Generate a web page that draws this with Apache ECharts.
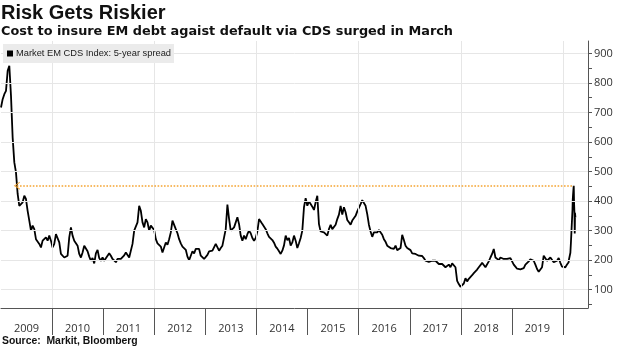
<!DOCTYPE html>
<html><head><meta charset="utf-8">
<script src="https://cdn.jsdelivr.net/npm/echarts@6/dist/echarts.min.js"></script>
<style>html,body{margin:0;padding:0;background:#fff}#c{width:620px;height:348px}</style>
</head><body><div id="c"></div>
<script>
const chartTitle = 'Risk Gets Riskier';
const chartSubtitle = 'Cost to insure EM debt agaist default via CDS surged in March';
const sourceText = 'Source:  Markit, Bloomberg';
const seriesName = 'Market EM CDS Index: 5-year spread';

// regularly spaced readings starting 2009-01-01, one every ~11.9 days
const startDate = [2009, 0, 1];
const stepDays = 11.9;
const spreadValues = [
717,745,762,773,841,858,757,615,531,497,
424,384,379,396,418,407,367,334,300,317,
305,271,271,255,243,266,271,277,266,283,
266,243,255,288,283,260,221,221,209,204,
215,277,311,283,266,271,249,221,209,226,
249,252,230,212,198,207,189,223,235,207,
198,209,198,204,215,223,215,204,198,193,
204,198,204,209,216,226,230,209,215,255,
300,294,328,384,367,328,311,339,328,300,
317,311,302,271,257,260,246,226,230,260,
252,271,294,334,328,305,291,271,257,246,
241,235,212,200,215,230,223,
238,238,238,215,221,204,204,218,230,226,
232,237,255,249,232,241,249,277,305,388,
340,300,294,311,328,345,322,283,266,283,
271,288,300,291,275,266,275,297,339,331,
322,324,305,291,279,275,268,259,246,239,
230,221,232,250,283,268,275,249,260,283,
266,241,257,275,300,379,410,384,399,390,
381,370,396,418,322,297,294,294,288,283,
305,320,305,311,320,339,354,384,354,379,
362,336,328,320,334,328,350,365,370,390,
403,401,384,356,320,297,279,294,291,294,
302,302,286,271,262,249,246,
241,243,238,249,234,232,241,286,268,249,
241,237,234,223,226,221,216,215,209,214,
207,198,198,194,198,198,203,198,194,187,
182,187,181,176,176,185,176,189,185,176,
130,119,110,114,121,139,128,137,142,149,
156,162,168,176,183,191,185,176,182,196,
209,221,238,209,204,200,209,214,204,209,
204,198,207,196,185,178,171,167,169,167,
173,185,191,196,203,207,198,185,170,161,
156,176,215,209,198,204,209,203,193,198,
198,207,191,178,180,176,185,193
];
// daily detail around the March 2020 spike
const tailDates = ['2020-02-12','2020-02-18','2020-02-23','2020-02-27','2020-03-02','2020-03-06','2020-03-09','2020-03-11','2020-03-13','2020-03-16','2020-03-18','2020-03-19','2020-03-20','2020-03-23','2020-03-24','2020-03-25','2020-03-26','2020-03-27','2020-03-30'];
const tailValues = [200,195,225,260,300,340,370,405,420,440,452,430,400,360,330,290,310,360,345];

const labelYears = [2009,2010,2011,2012,2013,2014,2015,2016,2017,2018,2019];
const tickYears = [2010,2011,2012,2013,2014,2015,2016,2017,2018,2019,2020];
const gridYears = [2010,2012,2014,2016,2018,2020];
const yLabelValues = [100,200,300,400,500,600,700,800,900];
const yTickValues = [50,100,150,200,250,300,350,400,450,500,550,600,650,700,750,800,850,900];
const yMin = 38, yMax = 942;
const axisStart = '2009-01-01', axisEnd = '2020-06-28';
const peakLevel = 452;
const arrowFrom = '2009-04-24';
const arrowTo = '2020-03-18';

const ts = s => { const p = s.split('-').map(Number); return Date.UTC(p[0], p[1]-1, p[2]); };
const DAY = 86400000;
const t0 = Date.UTC(startDate[0], startDate[1], startDate[2]);
const lineData = spreadValues.map((v, i) => [t0 + Math.round(i * stepDays * DAY), v])
  .concat(tailDates.map((d, i) => [ts(d), tailValues[i]]));

const chart = echarts.init(document.getElementById('c'), null, {renderer: 'canvas'});
const F = 'Liberation Sans';
chart.setOption({
  animation: false,
  backgroundColor: '#fff',
  title: [
    {text: chartTitle, left: 1, top: 3, padding: 0, textStyle: {fontFamily: F, fontWeight: 'bold', fontSize: 20, color: '#111'}},
    {text: chartSubtitle, left: 1, top: 25, padding: 0, textStyle: {fontFamily: 'DejaVu Sans', fontWeight: 'bold', fontSize: 12.85, color: '#111'}},
    {text: sourceText, left: 2, top: 336, padding: 0, textStyle: {fontFamily: F, fontWeight: 'bold', fontSize: 10.4, color: '#111'}}
  ],
  legend: {
    data: [seriesName], left: 3, top: 44, z: 20, padding: [5, 3, 5, 4], backgroundColor: '#ebebeb',
    icon: 'rect', itemWidth: 6, itemHeight: 6, itemGap: 0, selectedMode: false,
    textStyle: {fontFamily: F, fontSize: 9.3, color: '#1a1a1a', padding: [0, 0, 0, -2]}
  },
  grid: {left: 1, right: 32, top: 41, bottom: 40, containLabel: false, outerBoundsMode: 'none'},
  xAxis: {
    type: 'value', min: ts(axisStart), max: ts(axisEnd), scale: true,
    axisLine: {show: true, lineStyle: {color: '#555', width: 1}},
    axisTick: {show: true, length: 27, lineStyle: {color: '#555'}, customValues: tickYears.map(y => Date.UTC(y, 0, 1))},
    axisLabel: {
      customValues: labelYears.map(y => Date.UTC(y, 6, 2)), margin: 15,
      fontFamily: 'Open Sans', fontSize: 11, color: '#333',
      formatter: v => String(new Date(v).getUTCFullYear())
    },
    splitLine: {show: false}, minorTick: {show: false}
  },
  yAxis: {
    type: 'value', position: 'right', min: yMin, max: yMax,
    axisLine: {show: true, lineStyle: {color: '#555', width: 1}},
    axisTick: {show: true, inside: false, length: 4, lineStyle: {color: '#555'}, customValues: yTickValues},
    axisLabel: {customValues: yLabelValues, margin: 6, fontFamily: 'Open Sans', fontSize: 11, color: '#333'},
    splitLine: {show: false}
  },
  series: [
    {
      type: 'line', name: 'grid', data: [], z: 1, zlevel: 0, silent: true,
      markLine: {
        silent: true, symbol: 'none', label: {show: false}, animation: false,
        lineStyle: {color: '#e6e6e6', width: 1, type: 'solid'},
        emphasis: {disabled: true},
        data: yLabelValues.map(v => ({yAxis: v})).concat(gridYears.map(y => ({xAxis: Date.UTC(y, 0, 1)})))
      }
    },
    {
      type: 'line', name: seriesName, data: lineData, z: 3, showSymbol: false, symbol: 'none',
      color: '#000', lineStyle: {color: '#000', width: 1.8}, emphasis: {disabled: true},
      markLine: {
        silent: true, label: {show: false}, animation: false, emphasis: {disabled: true},
        lineStyle: {color: '#f5a431', width: 1.6, type: 'dotted'},
        data: [[
          {coord: [ts(arrowFrom), peakLevel], symbol: 'path://M0,10 L5,0 L10,10 L8.6,10 L5,2.6 L1.4,10 Z', symbolSize: [8, 6]},
          {coord: [ts(arrowTo), peakLevel], symbol: 'none'}
        ]]
      }
    }
  ]
});
</script></body></html>
